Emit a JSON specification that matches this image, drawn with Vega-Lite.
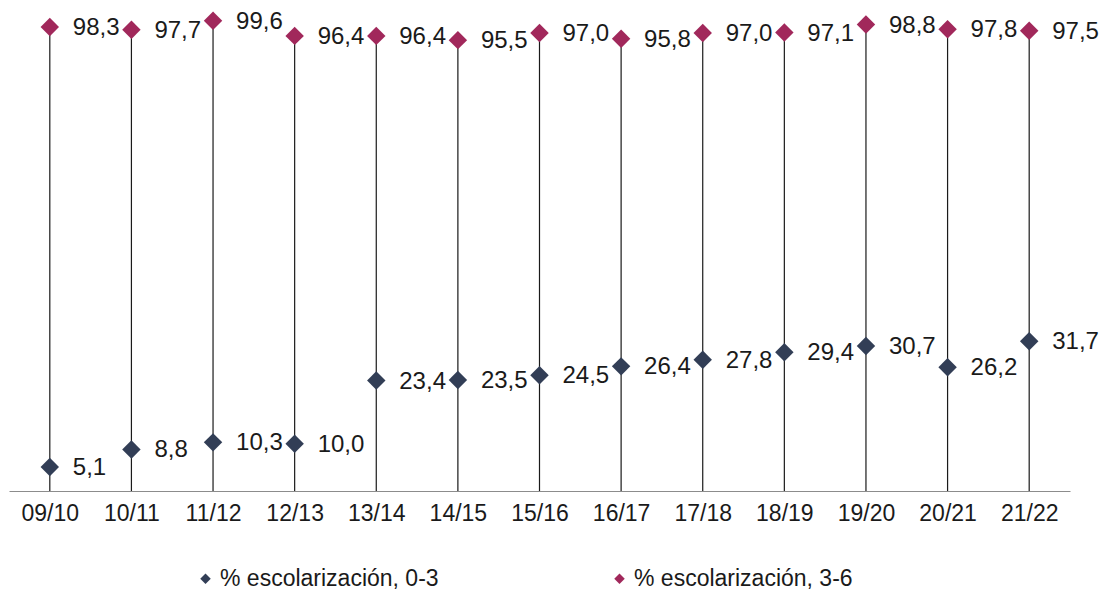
{
  "$schema": "https://vega.github.io/schema/vega-lite/v6.json",
  "width": 1061,
  "height": 491,
  "autosize": {"type": "none"},
  "padding": {"left": 9, "top": 0, "right": 29, "bottom": 99},
  "background": "white",
  "config": {
    "view": {"stroke": null},
    "font": "Liberation Sans",
    "locale": {"number": {"decimal": ",", "thousands": ".", "grouping": [3], "currency": ["", " €"]}}
  },
  "data": {
    "values": [
      {"curso": "09/10", "serie": "% escolarización, 0-3", "valor": 5.1},
      {"curso": "10/11", "serie": "% escolarización, 0-3", "valor": 8.8},
      {"curso": "11/12", "serie": "% escolarización, 0-3", "valor": 10.3},
      {"curso": "12/13", "serie": "% escolarización, 0-3", "valor": 10.0},
      {"curso": "13/14", "serie": "% escolarización, 0-3", "valor": 23.4},
      {"curso": "14/15", "serie": "% escolarización, 0-3", "valor": 23.5},
      {"curso": "15/16", "serie": "% escolarización, 0-3", "valor": 24.5},
      {"curso": "16/17", "serie": "% escolarización, 0-3", "valor": 26.4},
      {"curso": "17/18", "serie": "% escolarización, 0-3", "valor": 27.8},
      {"curso": "18/19", "serie": "% escolarización, 0-3", "valor": 29.4},
      {"curso": "19/20", "serie": "% escolarización, 0-3", "valor": 30.7},
      {"curso": "20/21", "serie": "% escolarización, 0-3", "valor": 26.2},
      {"curso": "21/22", "serie": "% escolarización, 0-3", "valor": 31.7},
      {"curso": "09/10", "serie": "% escolarización, 3-6", "valor": 98.3},
      {"curso": "10/11", "serie": "% escolarización, 3-6", "valor": 97.7},
      {"curso": "11/12", "serie": "% escolarización, 3-6", "valor": 99.6},
      {"curso": "12/13", "serie": "% escolarización, 3-6", "valor": 96.4},
      {"curso": "13/14", "serie": "% escolarización, 3-6", "valor": 96.4},
      {"curso": "14/15", "serie": "% escolarización, 3-6", "valor": 95.5},
      {"curso": "15/16", "serie": "% escolarización, 3-6", "valor": 97.0},
      {"curso": "16/17", "serie": "% escolarización, 3-6", "valor": 95.8},
      {"curso": "17/18", "serie": "% escolarización, 3-6", "valor": 97.0},
      {"curso": "18/19", "serie": "% escolarización, 3-6", "valor": 97.1},
      {"curso": "19/20", "serie": "% escolarización, 3-6", "valor": 98.8},
      {"curso": "20/21", "serie": "% escolarización, 3-6", "valor": 97.8},
      {"curso": "21/22", "serie": "% escolarización, 3-6", "valor": 97.5}
    ]
  },
  "encoding": {
    "x": {
      "field": "curso", "type": "nominal", "sort": null,
      "scale": {"type": "point", "padding": 0.5},
      "axis": {
        "title": null, "labelAngle": 0, "ticks": false,
        "domainColor": "#8c8c8c", "domainWidth": 1.2,
        "labelFontSize": 23, "labelColor": "#1a1a1a", "labelPadding": 11,
        "labelFont": "Liberation Sans"
      }
    }
  },
  "layer": [
    {
      "transform": [{"filter": "datum.serie === '% escolarización, 3-6'"}],
      "mark": {"type": "rule", "color": "#1a1a1a", "strokeWidth": 1.2},
      "encoding": {
        "y": {"field": "valor", "type": "quantitative", "scale": {"domain": [0, 104]}, "axis": null},
        "y2": {"datum": 0}
      }
    },
    {
      "mark": {"type": "point", "shape": "diamond", "filled": true, "size": 340, "opacity": 1},
      "encoding": {
        "y": {"field": "valor", "type": "quantitative", "scale": {"domain": [0, 104]}, "axis": null},
        "color": {
          "field": "serie", "type": "nominal",
          "scale": {"domain": ["% escolarización, 0-3", "% escolarización, 3-6"], "range": ["#323e56", "#a1285b"]},
          "legend": {
            "title": null, "orient": "none", "legendX": 185, "legendY": 567, "direction": "horizontal",
            "symbolType": "diamond", "symbolSize": 110, "symbolOpacity": 1,
            "labelFontSize": 23, "labelColor": "#1a1a1a", "labelOffset": 3, "labelLimit": 0,
            "columnPadding": 169, "labelFont": "Liberation Sans"
          }
        }
      }
    },
    {
      "mark": {"type": "text", "align": "left", "baseline": "middle", "dx": 23, "dy": 1, "fontSize": 24, "color": "#1a1a1a"},
      "encoding": {
        "y": {"field": "valor", "type": "quantitative", "scale": {"domain": [0, 104]}, "axis": null},
        "text": {"field": "valor", "type": "quantitative", "format": ".1f"}
      }
    }
  ]
}
